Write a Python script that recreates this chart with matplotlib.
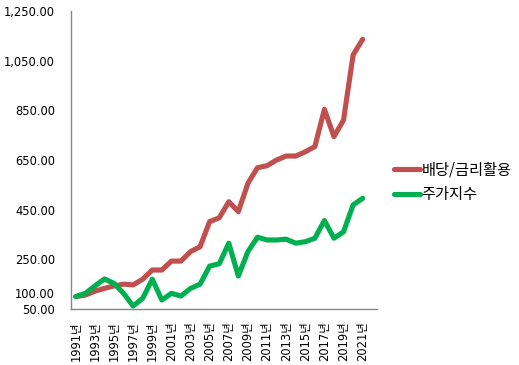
import matplotlib
matplotlib.use("Agg")
import matplotlib.pyplot as plt
import matplotlib.transforms as mtransforms

plt.rcParams['font.family'] = ['DejaVu Sans', 'Noto Sans CJK KR']

years = [f"{y}년" for y in range(1991, 2022)]
dividend = [100, 106, 122, 133, 143, 150, 147, 170, 207, 207, 243, 243, 281, 301,
            402, 417, 482, 442, 556, 619, 627, 650, 666, 666, 683, 704, 854, 744,
            811, 1073, 1136]
stock = [100, 113, 143, 171, 153, 113, 62, 93, 170, 86, 113, 102, 133, 150,
         223, 232, 315, 183, 281, 339, 328, 328, 331, 315, 321, 335, 406, 335,
         361, 469, 496]
yticks = [50, 100, 250, 450, 650, 850, 1050, 1250]
ytick_labels = ["50.00", "100.00", "250.00", "450.00", "650.00", "850.00",
                "1,050.00", "1,250.00"]
series_names = ["배당/금리활용", "주가지수"]

fig = plt.figure(figsize=(5.19, 3.65), dpi=100)
ax = fig.add_axes([71/519, 1-309/365, (377-71)/519, (309-11)/365])

x = list(range(len(years)))
ax.plot(x, dividend, color='#C0504D', lw=3.7, solid_capstyle='round',
        solid_joinstyle='round', label=series_names[0])
ax.plot(x, stock, color='#00B050', lw=3.7, solid_capstyle='round',
        solid_joinstyle='round', label=series_names[1])

ax.set_xlim(-0.5, len(years) + 0.5)
ax.set_ylim(50, 1250)
ax.set_yticks(yticks)
ax.set_yticklabels(ytick_labels)
ax.set_xticks(x[::2])
ax.set_xticklabels(years[::2], rotation=90)

for s in ['top', 'right']:
    ax.spines[s].set_visible(False)
for s in ['left', 'bottom']:
    ax.spines[s].set_color('#868686')
    ax.spines[s].set_linewidth(1.0)
ax.tick_params(axis='both', length=0, labelsize=8.3, colors='black')
ax.tick_params(axis='y', pad=11.5)
ax.tick_params(axis='x', pad=9)

# nudge the crowded 100.00 label upward slightly
for lbl in ax.get_yticklabels():
    if lbl.get_text() == "100.00":
        lbl.set_transform(lbl.get_transform() +
                          mtransforms.ScaledTranslation(0, 4/100, fig.dpi_scale_trans))

fig.legend(loc='center left', bbox_to_anchor=(394/519, 1-182.5/365),
           frameon=False, prop={'family': ['Noto Sans CJK KR'], 'size': 11},
           handlelength=1.7, handletextpad=0.1,
           labelspacing=0.5, borderaxespad=0, borderpad=0)

fig.savefig("out.png", dpi=100)
